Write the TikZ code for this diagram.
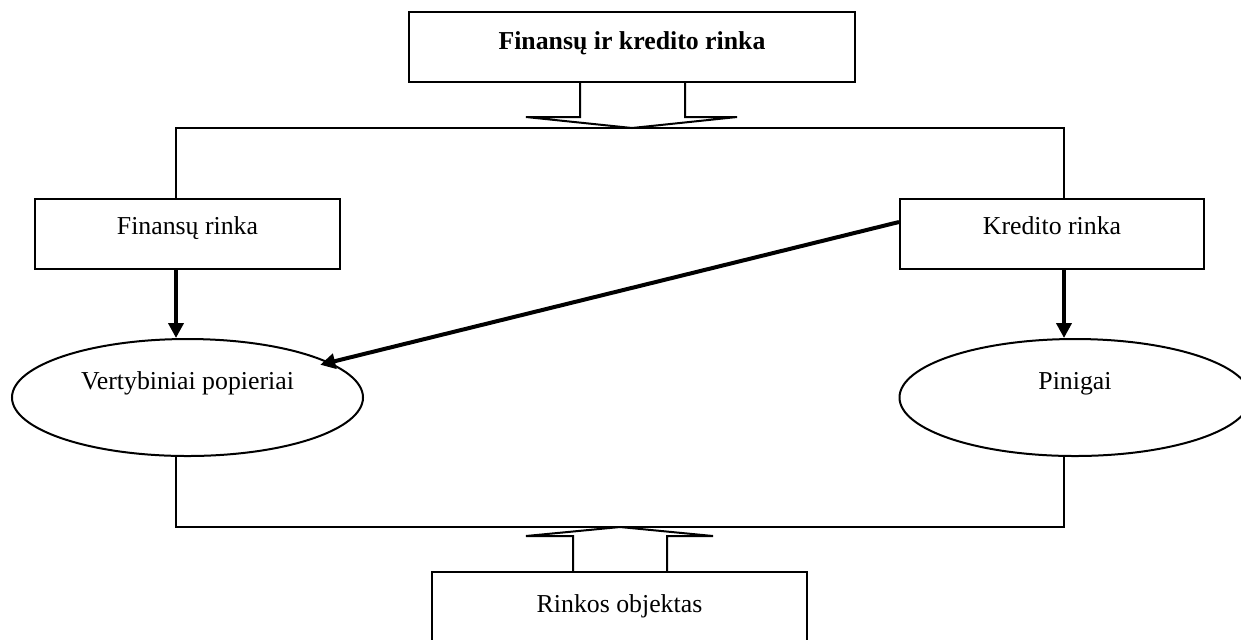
\documentclass[tikz,border=0pt]{standalone}
\usepackage{fontspec}
\setmainfont{Liberation Serif}
\usetikzlibrary{arrows.meta,calc,shapes.geometric}
\begin{document}
\begin{tikzpicture}[x=0.5pt,y=-0.5pt,
  every node/.style={font=\fontsize{12.9}{15}\selectfont},
  box/.style={draw, rectangle, inner sep=0pt, line width=1pt,
    text height=17.5pt, text depth=17.5pt, align=center},
  oval/.style={draw, ellipse, inner sep=0pt, line width=1pt,
    minimum width=175.5pt, minimum height=58.5pt,
    text height=5.5pt, text depth=14pt},
  flow/.style={line width=2pt, -{Triangle[width=7.5pt,length=7.5pt]}},
  outline/.style={line width=1pt, line join=miter}]

  % page frame
  \useasboundingbox (0,0) rectangle (1241,639);
  \clip (0,0) rectangle (1241,639);

  % boxes and ovals
  \node[box, minimum width=223pt, text height=18.5pt, text depth=16.5pt,
        font=\fontsize{12.9}{15}\selectfont\bfseries] (top) at (632,47) {Finansų ir kredito rinka};
  \node[box, minimum width=152.5pt] (fin)  at (187.5,234) {Finansų rinka};
  \node[box, minimum width=152pt]   (kred) at (1052,234)  {Kredito rinka};
  \node[oval] (vert) at (187.5,397.5) {Vertybiniai popieriai};
  \node[oval] (pin)  at (1075,397.5)  {Pinigai};
  \node[box, minimum width=187.5pt, text height=20pt, text depth=15pt] (obj) at (619.5,607) {Rinkos objektas};

  % columns of the frame and tips of the block arrows
  \coordinate (colL) at (176,0);
  \coordinate (colR) at (1064,0);
  \coordinate (toptip) at (632,128);
  \coordinate (bottip) at (620,527);

  % block arrow down from the title box
  \draw[outline] ($(top.south)+(-52,0)$) -- ($(top.south)+(-52,34)$)
    -- ($(top.south)+(-106,34)$) -- (toptip) -- ($(top.south)+(105,34)$)
    -- ($(top.south)+(53,34)$) -- ($(top.south)+(53,0)$);

  % upper frame
  \draw[outline] (colL |- fin.north) |- (toptip) -| (colR |- kred.north);

  % market to object arrows
  \draw[flow] (colL |- fin.south) -- (colL |- vert.north);
  \draw[flow] (colR |- kred.south) -- (colR |- pin.north);
  \draw[flow, shorten >=-5pt] ($(kred.west)+(0,-12)$) -- (vert);

  % lower frame
  \draw[outline] (colL |- vert.south) |- (bottip) -| (colR |- pin.south);

  % block arrow up from the bottom box
  \draw[outline] ($(obj.north)+(-46.5,0)$) -- ($(obj.north)+(-46.5,-35)$)
    -- ($(obj.north)+(-93.5,-35)$) -- (bottip) -- ($(obj.north)+(93.5,-35)$)
    -- ($(obj.north)+(47.5,-35)$) -- ($(obj.north)+(47.5,0)$);
\end{tikzpicture}
\end{document}
